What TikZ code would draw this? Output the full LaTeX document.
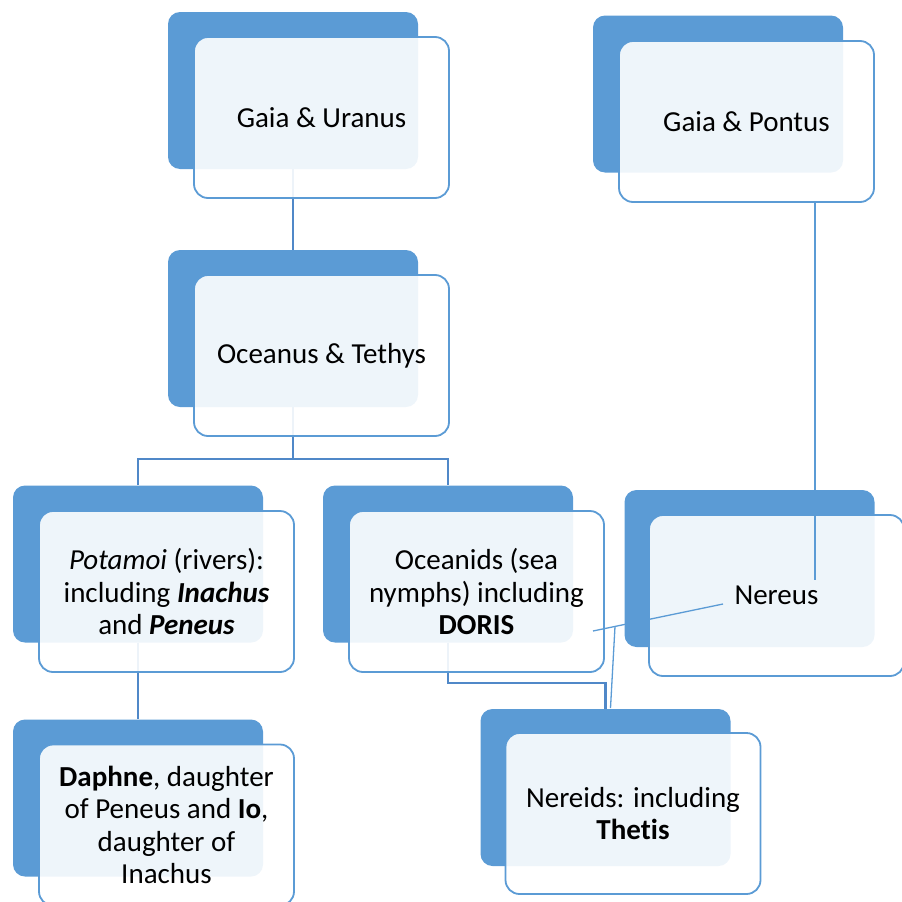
\documentclass[tikz,border=0pt]{standalone}
\usepackage{fontspec}
\setmainfont{Carlito}[Ligatures={NoCommon}]
\usetikzlibrary{backgrounds}
\definecolor{sblue}{HTML}{5B9BD5}
\definecolor{cblue}{HTML}{5088C8}
\begin{document}
\begin{tikzpicture}[x=1pt,y=-1pt,
  back/.style={fill=sblue, draw=none, rounded corners=12pt, minimum width=250pt, minimum height=157pt, inner sep=0pt},
  front/.style={draw=sblue, line width=1.8pt, fill=white, fill opacity=0.9, text opacity=1, draw opacity=1,
    rounded corners=14pt, minimum width=255pt, minimum height=161pt, align=center, inner sep=0pt,
    font=\fontsize{29}{32.5}\selectfont},
  conn/.style={draw=cblue, line width=2.2pt},
  thinline/.style={draw=sblue, line width=1.3pt}]
\useasboundingbox (0,0) rectangle (902,902);
% Gaia & Uranus
\node[back] (uB) at (293,90.5) {};
\node[front] (uF) at (321.5,117.5) {Gaia \& Uranus};
% Gaia & Pontus
\node[back] (gB) at (718,94) {};
\node[front] (gF) at (746.5,121.5) {Gaia \& Pontus};
% Oceanus & Tethys
\node[back] (oB) at (293,328.5) {};
\node[front] (oF) at (321.5,355.5) {Oceanus \& Tethys};
% Potamoi
\node[back] (pB) at (138,564) {};
\node[front] (pF) at (166.5,591.5) {\textit{Potamoi} (rivers):\\including \textbf{\textit{Inachus}}\\and \textbf{\textit{Peneus}}};
% Oceanids
\node[back] (cB) at (448,564) {};
\node[front] (cF) at (476.5,591.5) {Oceanids (sea\\nymphs) including\\\textbf{DORIS}};
% Nereus
\node[back] (nB) at (749.5,568.5) {};
\node[front] (nF) at (776.5,595.5) {Nereus};
% Nereids
\node[back] (tB) at (605.5,787.5) {};
\node[front] (tF) at (633,813.5) {Nereids: including\\\textbf{Thetis}};
% Daphne
\node[back] (dB) at (138,798) {};
\node[front] (dF) at (166.5,825) {\textbf{Daphne}, daughter\\of Peneus and \textbf{Io},\\daughter of\\Inachus};
% connectors behind the boxes
\coordinate (bar) at (293,459);
\coordinate (elb) at (605.5,683);
\begin{scope}[on background layer]
  \draw[conn] (uB.south) -- (oB.north);
  \draw[conn] (oB.south) -- (bar);
  \draw[conn] (pB.north) |- (bar) -| (cB.north);
  \draw[conn] (pB.south) -- (dB.north);
  \draw[conn] (cB.south) |- (elb) -- (tB.north);
\end{scope}
% thin lines on top
\coordinate (nA) at (815,580);
\coordinate (nC) at (723,604);
\coordinate (nD) at (593,631);
\coordinate (nE) at (615,626.4);
\coordinate (nF2) at (610.5,708);
\draw[thinline] (gF.south -| nA) -- (nA);
\draw[thinline] (nC) -- (nD);
\draw[thinline] (nE) -- (nF2);
\end{tikzpicture}
\end{document}
